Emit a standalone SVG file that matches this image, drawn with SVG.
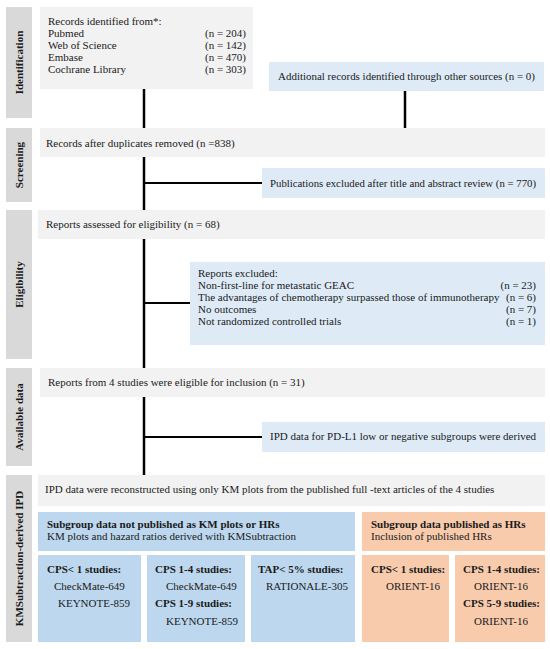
<svg xmlns="http://www.w3.org/2000/svg" width="550" height="649" viewBox="0 0 550 649" font-family="Liberation Serif, Tinos, Times New Roman, DejaVu Serif, serif">
<style>
text{font-family:"Liberation Serif","Tinos","Times New Roman","DejaVu Serif",serif;font-size:11px;fill:#1a1a1a}
.b{font-weight:bold}
.lab{font-weight:bold;font-size:11px;text-anchor:middle}
.side{fill:#d9d9d9}
.gray{fill:#f2f2f2}
.lb{fill:#deebf7}
.blue{fill:#bdd7ee}
.or{fill:#f8cbad}
.r{text-anchor:end}
.ln{stroke:#000;stroke-width:2.5;fill:none}
.hl{stroke:#000;stroke-width:2;fill:none}
</style>
<g id="side-labels">
<rect class="side" x="6" y="7" width="26" height="111"/>
<text class="lab" transform="translate(23,62.5) rotate(-90)">Identification</text>
<rect class="side" x="6" y="128" width="26" height="74"/>
<text class="lab" transform="translate(23,165) rotate(-90)">Screening</text>
<rect class="side" x="6" y="210" width="26" height="149"/>
<text class="lab" transform="translate(23,284.5) rotate(-90)">Eligibility</text>
<rect class="side" x="6" y="368" width="26" height="98"/>
<text class="lab" transform="translate(23,417) rotate(-90)">Available data</text>
<rect class="side" x="6" y="475" width="26" height="167"/>
<text class="lab" transform="translate(23,558.5) rotate(-90)">KMSubtraction-derived IPD</text>
</g>
<g id="connectors">
<line class="ln" x1="144" y1="89" x2="144" y2="128"/>
<line class="ln" x1="405" y1="91" x2="405" y2="128"/>
<line class="ln" x1="144" y1="157" x2="144" y2="210"/>
<line class="hl" x1="144" y1="183" x2="262" y2="183"/>
<line class="ln" x1="144" y1="239" x2="144" y2="368"/>
<line class="hl" x1="144" y1="303" x2="190" y2="303"/>
<line class="ln" x1="144" y1="397" x2="144" y2="475"/>
<line class="hl" x1="144" y1="437" x2="262" y2="437"/>
</g>
<g id="records">
<rect class="gray" x="40" y="7" width="213" height="82"/>
<text x="48" y="25">Records identified from*:</text>
<text x="48" y="37">Pubmed</text><text class="r" x="246" y="37">(n = 204)</text>
<text x="48" y="49">Web of Science</text><text class="r" x="246" y="49">(n = 142)</text>
<text x="48" y="61">Embase</text><text class="r" x="246" y="61">(n = 470)</text>
<text x="48" y="73">Cochrane Library</text><text class="r" x="246" y="73">(n = 303)</text>
</g>
<g id="additional">
<rect class="lb" x="269" y="62" width="275" height="29"/>
<text x="278" y="80" textLength="257" lengthAdjust="spacingAndGlyphs">Additional records identified through other sources (n = 0)</text>
</g>
<g id="screening">
<rect class="gray" x="40" y="128" width="505" height="29"/>
<text x="46" y="147">Records after duplicates removed (n =838)</text>
</g>
<g id="excluded1">
<rect class="lb" x="262" y="168" width="283" height="30"/>
<text x="270" y="187" textLength="266" lengthAdjust="spacingAndGlyphs">Publications excluded after title and abstract review (n = 770)</text>
</g>
<g id="assessed">
<rect class="gray" x="38" y="210" width="507" height="29"/>
<text x="46" y="228">Reports assessed for eligibility (n = 68)</text>
</g>
<g id="excluded2">
<rect class="lb" x="190" y="262" width="355" height="83"/>
<text x="198" y="277">Reports excluded:</text>
<text x="198" y="289">Non-first-line for metastatic GEAC</text><text class="r" x="536" y="289">(n = 23)</text>
<text x="198" y="301">The advantages of chemotherapy surpassed those of immunotherapy</text><text class="r" x="536" y="301">(n = 6)</text>
<text x="198" y="313">No outcomes</text><text class="r" x="536" y="313">(n = 7)</text>
<text x="198" y="325">Not randomized controlled trials</text><text class="r" x="536" y="325">(n = 1)</text>
</g>
<g id="eligible">
<rect class="gray" x="40" y="368" width="505" height="29"/>
<text x="48" y="386">Reports from 4 studies were eligible for inclusion (n = 31)</text>
</g>
<g id="ipd-derived">
<rect class="lb" x="262" y="422" width="283" height="30"/>
<text x="270" y="440">IPD data for PD-L1 low or negative subgroups were derived</text>
</g>
<g id="reconstructed">
<rect class="gray" x="38" y="475" width="507" height="31"/>
<text x="45" y="493">IPD data were reconstructed using only KM plots from the published full -text articles of the 4 studies</text>
</g>
<g id="km-header">
<rect class="blue" x="38" y="512" width="317" height="39"/>
<text class="b" x="47" y="528">Subgroup data not published as KM plots or HRs</text>
<text x="47" y="540">KM plots and hazard ratios derived with KMSubtraction</text>
</g>
<g id="hr-header">
<rect class="or" x="362" y="512" width="183" height="39"/>
<text class="b" x="371" y="528">Subgroup data published as HRs</text>
<text x="371" y="540">Inclusion of published HRs</text>
</g>
<g id="km-cps1">
<rect class="blue" x="38" y="555" width="103" height="87"/>
<text class="b" x="47" y="573">CPS&lt; 1 studies:</text>
<text x="54" y="590">CheckMate-649</text>
<text x="58" y="607">KEYNOTE-859</text>
</g>
<g id="km-cps14">
<rect class="blue" x="147" y="555" width="98" height="87"/>
<text class="b" x="155" y="573">CPS 1-4 studies:</text>
<text x="166" y="590">CheckMate-649</text>
<text class="b" x="155" y="607">CPS 1-9 studies:</text>
<text x="166" y="625">KEYNOTE-859</text>
</g>
<g id="km-tap">
<rect class="blue" x="251" y="555" width="104" height="87"/>
<text class="b" x="258" y="573">TAP&lt; 5% studies:</text>
<text x="266" y="590">RATIONALE-305</text>
</g>
<g id="hr-cps1">
<rect class="or" x="362" y="555" width="87" height="87"/>
<text class="b" x="371" y="573">CPS&lt; 1 studies:</text>
<text x="386" y="590">ORIENT-16</text>
</g>
<g id="hr-cps14">
<rect class="or" x="455" y="555" width="90" height="87"/>
<text class="b" x="463" y="573">CPS 1-4 studies:</text>
<text x="474" y="590">ORIENT-16</text>
<text class="b" x="463" y="607">CPS 5-9 studies:</text>
<text x="474" y="625">ORIENT-16</text>
</g>
</svg>
